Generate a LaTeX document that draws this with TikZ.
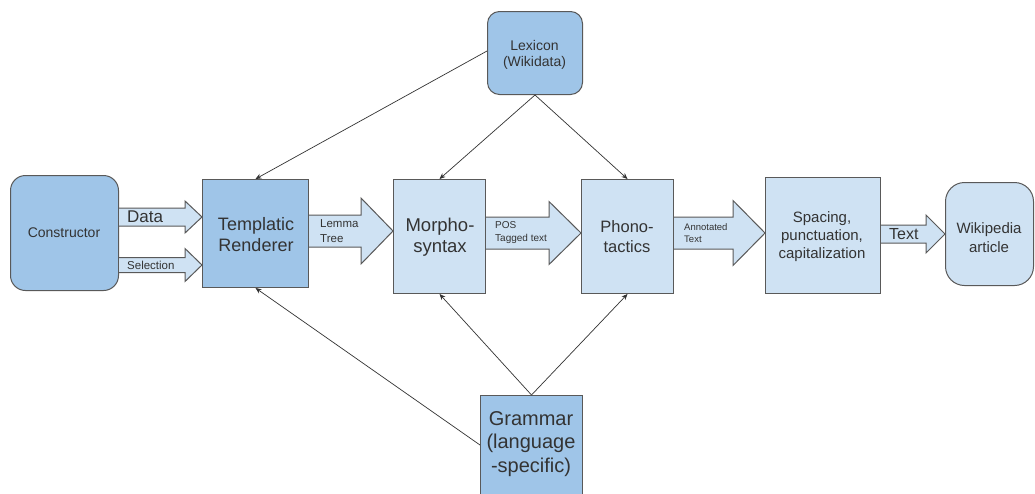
\documentclass[tikz,border=0pt]{standalone}
\usepackage{fontspec}
\setmainfont{Liberation Sans}
\usetikzlibrary{arrows.meta}
\definecolor{dblue}{HTML}{9FC5E8}
\definecolor{lblue}{HTML}{CFE2F3}
\definecolor{bord}{HTML}{595959}
\definecolor{txt}{HTML}{333333}
\tikzset{
  box/.style={draw=bord, line width=1pt, anchor=north west, inner sep=0pt, align=center, text=txt},
  dbox/.style={box, fill=dblue},
  lbox/.style={box, fill=lblue},
  thinarrow/.style={draw=txt, line width=0.7pt, -{Stealth[length=6pt,width=5pt]}},
  blockarr/.style={draw=bord, line width=1pt, fill=lblue, line join=miter},
  alabel/.style={text=txt, inner sep=0pt, align=left, anchor=west},
}
% #1 from node, #2 to node, #3 centre y, #4 body half height, #5 head half height, #6 head length
\newcommand\blockarrow[6]{%
  \path[blockarr] (#1.east |- 0,{#3-#4}) -- ([xshift=-#6 pt]#2.west |- 0,{#3-#4})
    -- ([xshift=-#6 pt]#2.west |- 0,{#3-#5}) -- (#2.west |- 0,#3)
    -- ([xshift=-#6 pt]#2.west |- 0,{#3+#5}) -- ([xshift=-#6 pt]#2.west |- 0,{#3+#4})
    -- (#1.east |- 0,{#3+#4});%
}
\begin{document}
\begin{tikzpicture}[x=1pt,y=-1pt]
\clip (0,0) rectangle (1035,493);
\fill[white] (0,0) rectangle (1035,493);
% nodes
\node[dbox, rounded corners=15pt, minimum width=108pt, minimum height=115pt] (cons) at (10,175) {};
\node[dbox, minimum width=106pt, minimum height=108pt] (tr) at (202,179) {};
\node[lbox, minimum width=92pt, minimum height=114pt] (ms) at (393,179) {};
\node[lbox, minimum width=92pt, minimum height=114pt] (pt) at (581,179) {};
\node[lbox, minimum width=115pt, minimum height=116pt] (sp) at (765,177) {};
\node[lbox, rounded corners=19pt, minimum width=88pt, minimum height=103pt] (wa) at (945,182) {};
\node[dbox, rounded corners=12pt, minimum width=95pt, minimum height=83pt] (lex) at (487,11) {};
\node[dbox, minimum width=102pt, minimum height=105pt] (gr) at (480,395) {};
% node texts
\tikzset{ntext/.style={text=txt, align=center, inner sep=0pt, anchor=center}}
\node[ntext, font=\fontsize{14}{16}\selectfont] (consT) at (64,233) {Constructor};
\node[ntext, font=\fontsize{18}{21}\selectfont] (trT) at (256,235) {Templatic\\Renderer};
\node[ntext, font=\fontsize{18.5}{21}\selectfont] (msT) at (440,237) {Morpho-\\syntax};
\node[ntext, font=\fontsize{16.5}{20}\selectfont] (ptT) at (627,237) {Phono-\\tactics};
\node[ntext, font=\fontsize{15}{18}\selectfont] (spT) at (822,237) {Spacing,\\punctuation,\\capitalization};
\node[ntext, font=\fontsize{15}{19}\selectfont] (waT) at (989,238) {Wikipedia\\article};
\node[ntext, font=\fontsize{14}{16.5}\selectfont] (lexT) at (534.5,55) {Lexicon\\(Wikidata)};
\node[ntext, font=\fontsize{20}{23.5}\selectfont] (grT) at (531,444) {Grammar\\(language\\-specific)};
% thin arrows
\draw[thinarrow] (lex.west |- 0,51) -- (tr.north);
\draw[thinarrow] (lex.south) -- (ms.north);
\draw[thinarrow] (lex.south) -- (pt.north);
\draw[thinarrow] (gr.west |- 0,445) -- (tr.south);
\draw[thinarrow] (gr.north) -- (ms.south);
\draw[thinarrow] (gr.north) -- (pt.south);
% block arrows
\blockarrow{cons}{tr}{217}{9}{16}{17}
\blockarrow{cons}{tr}{265}{7.5}{16.5}{17}
\blockarrow{tr}{ms}{231}{16}{33}{32}
\blockarrow{ms}{pt}{233}{16}{31.5}{32}
\blockarrow{pt}{sp}{233}{16}{32.5}{32}
\blockarrow{sp}{wa}{234}{9}{19}{19}
% block arrow labels
\node[alabel, font=\fontsize{17}{19}\selectfont] (ldata) at (127,217) {Data};
\node[alabel, font=\fontsize{11.5}{13}\selectfont] (lsel) at (127,265) {Selection};
\node[alabel, font=\fontsize{11.5}{15.5}\selectfont] (llem) at (320,231) {Lemma\\Tree};
\node[alabel, font=\fontsize{10}{13}\selectfont] (lpos) at (495,233) {POS\\Tagged text};
\node[alabel, font=\fontsize{9.5}{12.5}\selectfont] (lann) at (684,233) {Annotated\\Text};
\node[alabel, font=\fontsize{16}{18}\selectfont] (ltext) at (889,234) {Text};
\end{tikzpicture}
\end{document}
